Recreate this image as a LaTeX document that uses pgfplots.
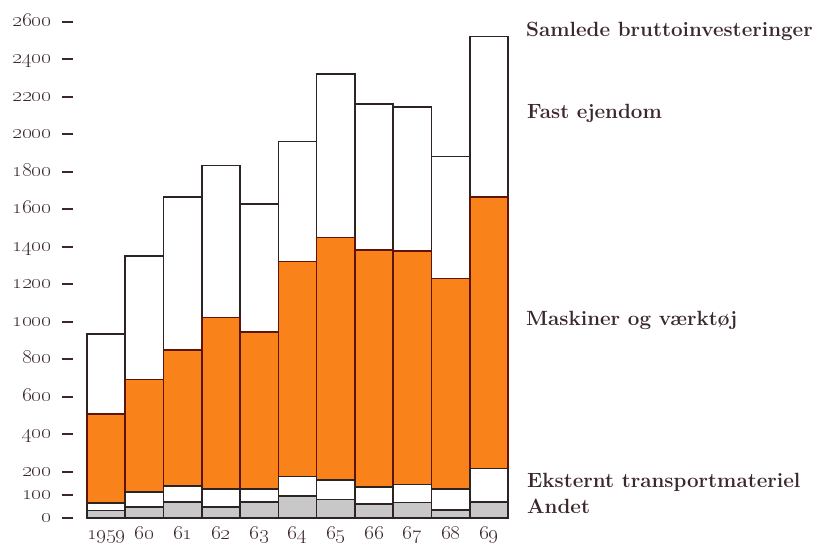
\documentclass[border=0pt]{standalone}
\usepackage{pgfplots}
\pgfplotsset{compat=1.18}
\definecolor{orng}{RGB}{249,130,26}
\definecolor{edge}{RGB}{45,35,35}
\definecolor{oedge}{RGB}{95,20,8}
\definecolor{txt}{RGB}{60,40,42}
\definecolor{andet}{RGB}{200,200,200}
\newcommand{\yl}[1]{\oldstylenums{#1}\hspace{11bp}\rule[3.6bp]{11bp}{1.8bp}}
\begin{document}
\begin{tikzpicture}[x=1bp,y=1bp]
\useasboundingbox (0,0) rectangle (817,546);
\begin{axis}[
  at={(87bp,28bp)}, anchor=south west,
  scale only axis, width=421bp, height=496bp,
  xmin=-0.5, xmax=10.5, ymin=0, ymax=2600,
  clip=false,
  y coord trafo/.code={\pgfmathparse{#1<200 ? 1.227*#1 : 245.4+#1-200}},
  axis line style={draw=none},
  major tick length=0pt,
  ybar, bar width=38.27bp, bar shift=0pt,
  xtick={0,...,10},
  xticklabels={\oldstylenums{1959},\oldstylenums{60},\oldstylenums{61},\oldstylenums{62},\oldstylenums{63},\oldstylenums{64},\oldstylenums{65},\oldstylenums{66},\oldstylenums{67},\oldstylenums{68},\oldstylenums{69}},
  ytick={0,100,200,400,600,800,1000,1200,1400,1600,1800,2000,2200,2400,2600},
  yticklabels={\yl{0},\yl{100},\yl{200},\yl{400},\yl{600},\yl{800},\yl{1000},\yl{1200},\yl{1400},\yl{1600},\yl{1800},\yl{2000},\yl{2200},\yl{2400},\yl{2600}},
  yticklabel style={font=\fontsize{20.5bp}{22bp}\selectfont, text=txt, anchor=base east, inner sep=0pt, xshift=-14bp, yshift=-4.4bp},
  xticklabel style={font=\fontsize{20.5bp}{22bp}\selectfont, text=txt, anchor=base, inner sep=0pt, yshift=-22bp},
]
% Samlede bruttoinvesteringer (top of Fast ejendom)
\addplot[fill=white, draw=edge, line width=1.6bp, bar shift=0pt] coordinates {
(0,936) (1,1352) (2,1667) (3,1834) (4,1628) (5,1962) (6,2321) (7,2161) (8,2148) (9,1883) (10,2522)};
% Maskiner og vaerktoej (cumulative top)
\addplot[fill=orng, draw=oedge, line width=1.6bp, bar shift=0pt] coordinates {
(0,509) (1,694) (2,851) (3,1023) (4,948) (5,1323) (6,1450) (7,1384) (8,1380) (9,1231) (10,1667)};
% Eksternt transportmateriel (cumulative top)
\addplot[fill=white, draw=edge, line width=1.6bp, bar shift=0pt] coordinates {
(0,66) (1,112) (2,140) (3,127) (4,127) (5,180) (6,164) (7,135) (8,146) (9,125) (10,218)};
% Andet
\addplot[fill=andet, draw=edge, line width=1.6bp, bar shift=0pt] coordinates {
(0,32) (1,48) (2,70) (3,48) (4,70) (5,96) (6,81) (7,60) (8,67) (9,36) (10,70)};
\end{axis}
\begin{scope}[every node/.style={anchor=base west, inner sep=0pt, text=txt, font=\fontsize{20.6bp}{24bp}\selectfont\bfseries}]
\node at (526,509) {Samlede bruttoinvesteringer};
\node at (527,427) {Fast ejendom};
\node at (526,220) {Maskiner og værktøj};
\node at (527,58) {Eksternt transportmateriel};
\node at (527,32) {Andet};
\end{scope}
\end{tikzpicture}
\end{document}
